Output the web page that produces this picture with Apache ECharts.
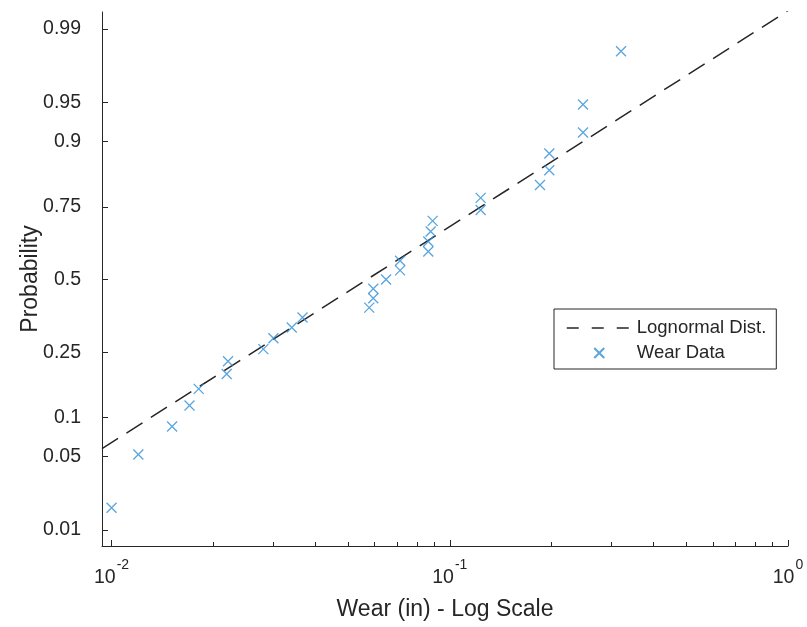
<!DOCTYPE html>
<html><head><meta charset="utf-8">
<script src="https://cdn.jsdelivr.net/npm/echarts@6/dist/echarts.min.js"></script>
<style>html,body{margin:0;padding:0;background:#fff}#c{width:807px;height:627px}</style>
</head><body><div id="c"></div>
<script>
// ---- data ----
const wear = [0.0100, 0.0120, 0.0151, 0.0170, 0.0181, 0.0219, 0.0221, 0.0281, 0.0301, 0.0341, 0.0367,
  0.0578, 0.0594, 0.0594, 0.0648, 0.0713, 0.0713, 0.0864, 0.0864, 0.0878, 0.0890,
  0.1234, 0.1234, 0.1848, 0.1969, 0.1969, 0.2477, 0.2477, 0.3209];
const prob = [0.017, 0.052, 0.086, 0.121, 0.155, 0.190, 0.224, 0.259, 0.293, 0.328, 0.362,
  0.397, 0.431, 0.466, 0.500, 0.534, 0.569, 0.603, 0.638, 0.672, 0.707,
  0.741, 0.776, 0.810, 0.845, 0.879, 0.914, 0.948, 0.983];
const lineWear = [0.00937, 1.0];
const lineProb = [0.0581, 0.99374];
const probTicks = [0.01, 0.05, 0.1, 0.25, 0.5, 0.75, 0.9, 0.95, 0.99];
const probTickLabels = ['0.01', '0.05', '0.1', '0.25', '0.5', '0.75', '0.9', '0.95', '0.99'];
const wearTicks = [0.01, 0.1, 1];
const wearTickExp = ['-2', '-1', '0'];
const wearMinorTicks = [0.02, 0.03, 0.04, 0.05, 0.06, 0.07, 0.08, 0.09, 0.2, 0.3, 0.4, 0.5, 0.6, 0.7, 0.8, 0.9];
const xLimits = [0.00937, 1];
const zLimits = [-2.475, 2.485];

// inverse standard normal CDF (probability-axis transform)
function norminv(p) {
  const a = [-3.969683028665376e+01, 2.209460984245205e+02, -2.759285104469687e+02, 1.383577518672690e+02, -3.066479806614716e+01, 2.506628277459239e+00];
  const b = [-5.447609879822406e+01, 1.615858368580409e+02, -1.556989798598866e+02, 6.680131188771972e+01, -1.328068155288572e+01];
  const c = [-7.784894002430293e-03, -3.223964580411365e-01, -2.400758277161838e+00, -2.549732539343734e+00, 4.374664141464968e+00, 2.938163982698783e+00];
  const d = [7.784695709041462e-03, 3.224671290700398e-01, 2.445134137142996e+00, 3.754408661907416e+00];
  const pl = 0.02425, ph = 1 - pl;
  let q, r;
  if (p < pl) { q = Math.sqrt(-2 * Math.log(p)); return (((((c[0]*q+c[1])*q+c[2])*q+c[3])*q+c[4])*q+c[5]) / ((((d[0]*q+d[1])*q+d[2])*q+d[3])*q+1); }
  if (p <= ph) { q = p - 0.5; r = q*q; return (((((a[0]*r+a[1])*r+a[2])*r+a[3])*r+a[4])*r+a[5])*q / (((((b[0]*r+b[1])*r+b[2])*r+b[3])*r+b[4])*r+1); }
  q = Math.sqrt(-2 * Math.log(1 - p)); return -(((((c[0]*q+c[1])*q+c[2])*q+c[3])*q+c[4])*q+c[5]) / ((((d[0]*q+d[1])*q+d[2])*q+d[3])*q+1);
}
const probTickZ = probTicks.map(norminv);
function nearestIdx(arr, v) { let bi = 0, bd = Infinity; arr.forEach((a, i) => { const dd = Math.abs(a - v); if (dd < bd) { bd = dd; bi = i; } }); return bi; }

const ink = '#262626';
const ff = 'Liberation Sans, Arial, Helvetica, sans-serif';
const blue = '#2f8fd6';
const xPath = 'path://M0,0L10,10M10,0L0,10';

function tickAxisX(values, len) {
  return {
    type: 'log', logBase: 10, min: xLimits[0], max: xLimits[1], position: 'bottom', gridIndex: 0,
    axisLine: { show: false, onZero: false },
    axisTick: { show: true, inside: true, length: len, customValues: values, lineStyle: { color: ink, width: 1 } },
    axisLabel: { show: false }, splitLine: { show: false }, minorTick: { show: false }
  };
}

const chart = echarts.init(document.getElementById('c'), null, { renderer: 'canvas' });
chart.setOption({
  animation: false,
  backgroundColor: '#fff',
  grid: { left: 102, top: 12, right: 19, bottom: 81, containLabel: false },
  xAxis: [{
    type: 'log', logBase: 10, min: xLimits[0], max: xLimits[1], position: 'bottom',
    name: 'Wear (in) - Log Scale', nameLocation: 'middle', nameGap: 52, nameMoveOverlap: false,
    nameTextStyle: { color: ink, fontSize: 23, fontFamily: ff },
    axisLine: { show: true, onZero: false, lineStyle: { color: ink, width: 1 } },
    axisTick: { show: false },
    minorTick: { show: false }, splitLine: { show: false }, minorSplitLine: { show: false },
    axisLabel: {
      customValues: wearTicks, margin: 12, color: ink,
      formatter: v => '{b|10}{s|' + wearTickExp[nearestIdx(wearTicks.map(Math.log10), Math.log10(v))] + '}',
      rich: {
        b: { fontSize: 19.5, fontFamily: ff, color: ink, lineHeight: 30, verticalAlign: 'bottom' },
        s: { fontSize: 14, fontFamily: ff, color: ink, lineHeight: 12, verticalAlign: 'top', padding: [0, 0, 0, 1] }
      }
    }
  }, tickAxisX(wearMinorTicks, 4), tickAxisX(wearTicks, 6)],
  yAxis: [{
    type: 'value', min: zLimits[0], max: zLimits[1], position: 'left',
    name: 'Probability', nameLocation: 'middle', nameGap: 60, nameMoveOverlap: false,
    nameTextStyle: { color: ink, fontSize: 23, fontFamily: ff },
    axisLine: { show: true, onZero: false, lineStyle: { color: ink, width: 1 } },
    axisTick: { show: false },
    splitLine: { show: false },
    axisLabel: {
      customValues: probTickZ, margin: 21, color: ink, fontSize: 19.5, fontFamily: ff,
      formatter: v => probTickLabels[nearestIdx(probTickZ, v)]
    }
  }, {
    type: 'value', min: zLimits[0], max: zLimits[1], position: 'left', gridIndex: 0,
    axisLine: { show: false, onZero: false },
    axisTick: { show: true, inside: true, length: 6, customValues: probTickZ, lineStyle: { color: ink, width: 1 } },
    axisLabel: { show: false }, splitLine: { show: false }
  }],
  legend: {
    orient: 'vertical', left: 554, top: 309, padding: [9, 10, 6, 12], itemGap: 5,
    itemWidth: 65, itemHeight: 10,
    backgroundColor: '#fff', borderColor: ink, borderWidth: 1, borderRadius: 0,
    textStyle: { color: ink, fontSize: 18.5, fontFamily: ff, lineHeight: 20 },
    data: [
      { name: 'Lognormal Dist.', lineStyle: { type: [12, 13], width: 1.5, color: ink }, itemStyle: { opacity: 0 } },
      { name: 'Wear Data' }
    ]
  },
  series: [{
    name: 'Lognormal Dist.', type: 'line', xAxisIndex: 0, yAxisIndex: 0,
    symbol: 'none', showSymbol: false, clip: true,
    lineStyle: { color: ink, width: 1.5, type: [19, 10] },
    itemStyle: { color: ink },
    data: lineWear.map((w, i) => [w, norminv(lineProb[i])]),
    z: 2
  }, {
    name: 'Wear Data', type: 'scatter', xAxisIndex: 0, yAxisIndex: 0,
    symbol: xPath, symbolSize: 10,
    itemStyle: { color: 'rgba(0,0,0,0)', borderColor: blue, borderWidth: 1.3 },
    data: wear.map((w, i) => [w, norminv(prob[i])]),
    z: 3
  }]
});
</script></body></html>
